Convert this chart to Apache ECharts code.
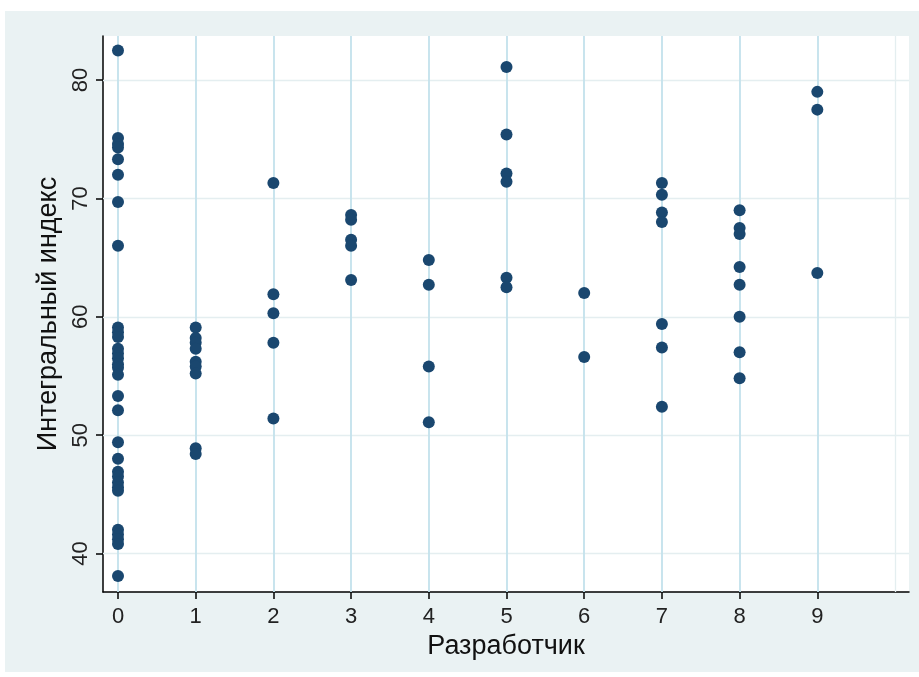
<!DOCTYPE html>
<html>
<head>
<meta charset="utf-8">
<script src="https://cdn.jsdelivr.net/npm/echarts@6/dist/echarts.min.js"></script>
<style>
html,body{margin:0;padding:0;background:#ffffff;}
#chart{width:919px;height:677px;}
</style>
</head>
<body>
<div id="chart"></div>
<script>
// Developer ids (x categories) and tick labels
var developers = [0, 1, 2, 3, 4, 5, 6, 7, 8, 9];
var xTickLabels = [0, 1, 2, 3, 4, 5, 6, 7, 8, 9];
var yTickLabels = [40, 50, 60, 70, 80];

// Integral index values per developer
var dev0 = [82.5, 75.1, 74.6, 74.3, 73.3, 72.0, 69.7, 66.0, 59.1, 58.7, 58.3, 57.3, 56.9, 56.5, 56.0, 55.7, 55.1, 53.3, 52.1, 49.4, 48.0, 46.9, 46.5, 46.0, 45.6, 45.3, 42.0, 41.6, 41.2, 40.8, 38.1];
var dev1 = [59.1, 58.2, 57.8, 57.3, 56.2, 55.8, 55.2, 48.9, 48.4];
var dev2 = [71.3, 61.9, 60.3, 57.8, 51.4];
var dev3 = [68.6, 68.2, 66.5, 66.0, 63.1];
var dev4 = [64.8, 62.7, 55.8, 51.1];
var dev5 = [81.1, 75.4, 72.1, 71.4, 63.3, 62.5];
var dev6 = [62.0, 56.6];
var dev7 = [71.3, 70.3, 68.8, 68.0, 59.4, 57.4, 52.4];
var dev8 = [69.0, 67.5, 67.0, 64.2, 62.7, 60.0, 57.0, 54.8];
var dev9 = [79.0, 77.5, 63.7];

var devSeries = [dev0, dev1, dev2, dev3, dev4, dev5, dev6, dev7, dev8, dev9];
var points = [];
developers.forEach(function (d, i) {
  devSeries[i].forEach(function (v) { points.push([d, v]); });
});

var chart = echarts.init(document.getElementById('chart'), null, {renderer: 'canvas'});
var font = 'Liberation Sans, Arial, sans-serif';

var vLines = developers.map(function (d) {
  return {xAxis: d, lineStyle: {color: '#c3e1ec', width: 1.8, type: 'solid'}};
});
vLines.push({xAxis: 10, lineStyle: {color: '#e4eef0', width: 1.3, type: 'solid'}});
var hLines = yTickLabels.map(function (v) {
  return {yAxis: v, lineStyle: {color: '#e4eef0', width: 1.3, type: 'solid'}};
});

chart.setOption({
  animation: false,
  backgroundColor: '#ffffff',
  graphic: [{
    type: 'rect', z: -10, silent: true,
    shape: {x: 5, y: 11, width: 914, height: 661},
    style: {fill: '#eaf2f3'}
  }],
  grid: {
    left: 103, right: 10, top: 36, bottom: 85,
    show: true, backgroundColor: '#ffffff', borderWidth: 0
  },
  xAxis: {
    type: 'value',
    min: -0.193, max: 10.18,
    name: 'Разработчик',
    nameLocation: 'middle',
    nameGap: 38,
    nameTextStyle: {fontSize: 27, color: '#111', fontFamily: font},
    axisLine: {show: true, onZero: false, lineStyle: {color: '#000', width: 1.5}},
    axisTick: {show: true, length: 7, customValues: xTickLabels, lineStyle: {color: '#000', width: 1.5}},
    axisLabel: {customValues: xTickLabels, fontSize: 22, margin: 14, color: '#222', fontFamily: font},
    splitLine: {show: false}
  },
  yAxis: {
    type: 'value',
    min: 36.75, max: 83.72,
    name: 'Интегральный индекс',
    nameLocation: 'middle',
    nameGap: 40,
    nameTextStyle: {fontSize: 27, color: '#111', fontFamily: font},
    axisLine: {show: true, onZero: false, lineStyle: {color: '#000', width: 1.5}},
    axisTick: {show: true, length: 7, customValues: yTickLabels, lineStyle: {color: '#000', width: 1.5}},
    axisLabel: {customValues: yTickLabels, rotate: 90, fontSize: 22, margin: 11, color: '#222', fontFamily: font},
    splitLine: {show: false}
  },
  series: [
    {
      type: 'scatter', data: [], z: 1, silent: true,
      markLine: {silent: true, symbol: 'none', label: {show: false}, animation: false, data: hLines.concat(vLines)}
    },
    {
      type: 'scatter', z: 5,
      data: points,
      symbol: 'circle',
      symbolSize: 12,
      itemStyle: {color: '#1a476f', opacity: 1}
    }
  ]
});
</script>
</body>
</html>
